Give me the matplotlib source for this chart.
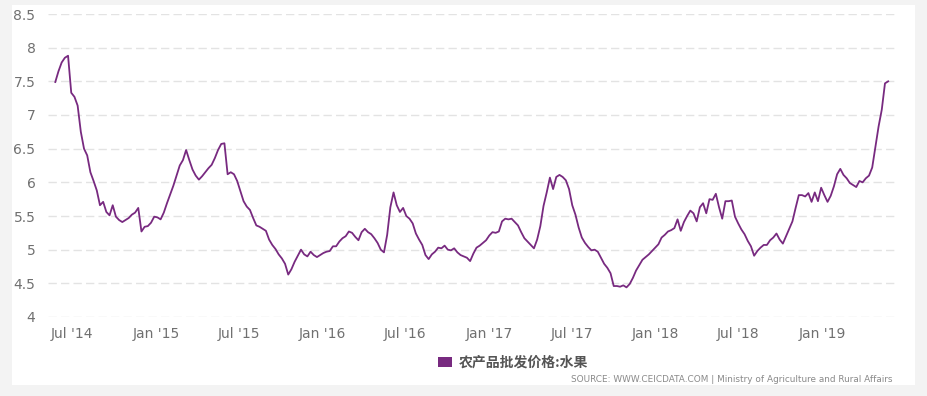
import numpy as np
import pandas as pd
import matplotlib

matplotlib.use("Agg")
import matplotlib.pyplot as plt
import matplotlib.dates as mdates
from matplotlib.patches import Patch, Rectangle

# weekly readings, starting late May 2014
start_date = "2014-05-25"
fruit_price = [
    7.49, 7.65, 7.78, 7.85, 7.88, 7.33, 7.27, 7.14, 6.75, 6.50,
    6.40, 6.15, 6.02, 5.88, 5.66, 5.71, 5.56, 5.51, 5.66, 5.49,
    5.44, 5.41, 5.44, 5.47, 5.52, 5.55, 5.62, 5.27, 5.34, 5.35,
    5.40, 5.49, 5.48, 5.45, 5.55, 5.69, 5.82, 5.95, 6.10, 6.25,
    6.33, 6.48, 6.33, 6.19, 6.10, 6.04, 6.09, 6.15, 6.21, 6.26,
    6.36, 6.48, 6.57, 6.58, 6.12, 6.15, 6.12, 6.02, 5.87, 5.72,
    5.64, 5.59, 5.47, 5.36, 5.34, 5.31, 5.28, 5.15, 5.07, 5.01,
    4.93, 4.87, 4.79, 4.63, 4.71, 4.82, 4.91, 5.00, 4.93, 4.90,
    4.97, 4.92, 4.89, 4.92, 4.95, 4.97, 4.98, 5.05, 5.05, 5.12,
    5.17, 5.20, 5.27, 5.25, 5.19, 5.14, 5.26, 5.31, 5.26, 5.23,
    5.17, 5.10, 5.00, 4.96, 5.22, 5.63, 5.85, 5.66, 5.56, 5.62,
    5.50, 5.46, 5.39, 5.24, 5.15, 5.07, 4.92, 4.86, 4.93, 4.97,
    5.03, 5.02, 5.06, 5.00, 4.99, 5.02, 4.96, 4.92, 4.90, 4.88,
    4.83, 4.94, 5.03, 5.06, 5.10, 5.14, 5.21, 5.26, 5.25, 5.27,
    5.42, 5.46, 5.45, 5.46, 5.41, 5.36, 5.26, 5.17, 5.12, 5.07,
    5.02, 5.15, 5.35, 5.65, 5.85, 6.07, 5.90, 6.08, 6.11, 6.08,
    6.03, 5.90, 5.66, 5.52, 5.33, 5.18, 5.10, 5.04, 4.99, 5.00,
    4.97, 4.88, 4.79, 4.73, 4.65, 4.46, 4.46, 4.45, 4.47, 4.44,
    4.49, 4.58, 4.69, 4.77, 4.85, 4.89, 4.93, 4.98, 5.03, 5.08,
    5.18, 5.22, 5.27, 5.29, 5.32, 5.45, 5.28, 5.41, 5.50, 5.58,
    5.54, 5.42, 5.63, 5.69, 5.54, 5.75, 5.74, 5.83, 5.63, 5.46,
    5.72, 5.72, 5.73, 5.49, 5.39, 5.30, 5.23, 5.13, 5.05, 4.91,
    4.98, 5.03, 5.07, 5.07, 5.14, 5.18, 5.24, 5.15, 5.09, 5.20,
    5.31, 5.42, 5.62, 5.81, 5.81, 5.79, 5.84, 5.71, 5.85, 5.72,
    5.92, 5.81, 5.71, 5.80, 5.94, 6.12, 6.20, 6.11, 6.06, 5.99,
    5.96, 5.93, 6.02, 6.00, 6.06, 6.10, 6.22, 6.52, 6.83, 7.08,
    7.47, 7.50,
]
series_name = "农产品批发价格:水果"
source_text = "SOURCE: WWW.CEICDATA.COM | Ministry of Agriculture and Rural Affairs"
y_ticks = [4, 4.5, 5, 5.5, 6, 6.5, 7, 7.5, 8, 8.5]
x_tick_dates = ["2014-07-01", "2015-01-01", "2015-07-01", "2016-01-01", "2016-07-01",
                "2017-01-01", "2017-07-01", "2018-01-01", "2018-07-01", "2019-01-01"]
x_tick_labels = ["Jul '14", "Jan '15", "Jul '15", "Jan '16", "Jul '16",
                 "Jan '17", "Jul '17", "Jan '18", "Jul '18", "Jan '19"]

line_color = "#782a80"

dates = pd.date_range(start_date, periods=len(fruit_price), freq="7D")

fig = plt.figure(figsize=(9.28, 3.96), dpi=100, facecolor="#f3f3f3")
# white card behind the chart
fig.patches.append(Rectangle((12 / 928, 1 - 385 / 396), 903 / 928, 380 / 396,
                             transform=fig.transFigure, facecolor="white",
                             edgecolor="none", zorder=-10))

ax = fig.add_axes([48 / 928, 1 - 317 / 396, 847 / 928, 303 / 396])
ax.set_zorder(1)
ax.set_facecolor("none")
ax.plot(dates, fruit_price, color=line_color, linewidth=1.3, zorder=3)

ax.set_ylim(4, 8.5)
ax.set_yticks(y_ticks)
ax.set_yticklabels([("%g" % v) for v in y_ticks])
ax.set_xlim(pd.Timestamp("2014-05-09"), pd.Timestamp("2019-06-10"))
ax.set_xticks(pd.to_datetime(x_tick_dates))
ax.set_xticklabels(x_tick_labels)

for spine in ax.spines.values():
    spine.set_visible(False)
ax.tick_params(axis="both", length=0, labelsize=10, labelcolor="#707070")
ax.tick_params(axis="y", pad=9)
ax.tick_params(axis="x", pad=7)
ax.grid(axis="y", color="#e3e3e3", linewidth=1, linestyle=(0, (6, 3)))
ax.set_axisbelow(True)

handle = Patch(facecolor=line_color, edgecolor="none")
fig.legend([handle], [series_name], loc="center", bbox_to_anchor=(513 / 928, 1 - 363 / 396),
           frameon=False, handlelength=1.0, handleheight=0.75, handletextpad=0.45,
           prop={"family": ["Noto Sans CJK SC", "DejaVu Sans"], "size": 10, "weight": "bold"},
           labelcolor="#555555")

fig.text(893 / 928, 1 - 379 / 396, source_text, ha="right", va="center",
         fontsize=6.4, color="#8a8a8a")

plt.savefig("out.png", dpi=100, facecolor=fig.get_facecolor())
